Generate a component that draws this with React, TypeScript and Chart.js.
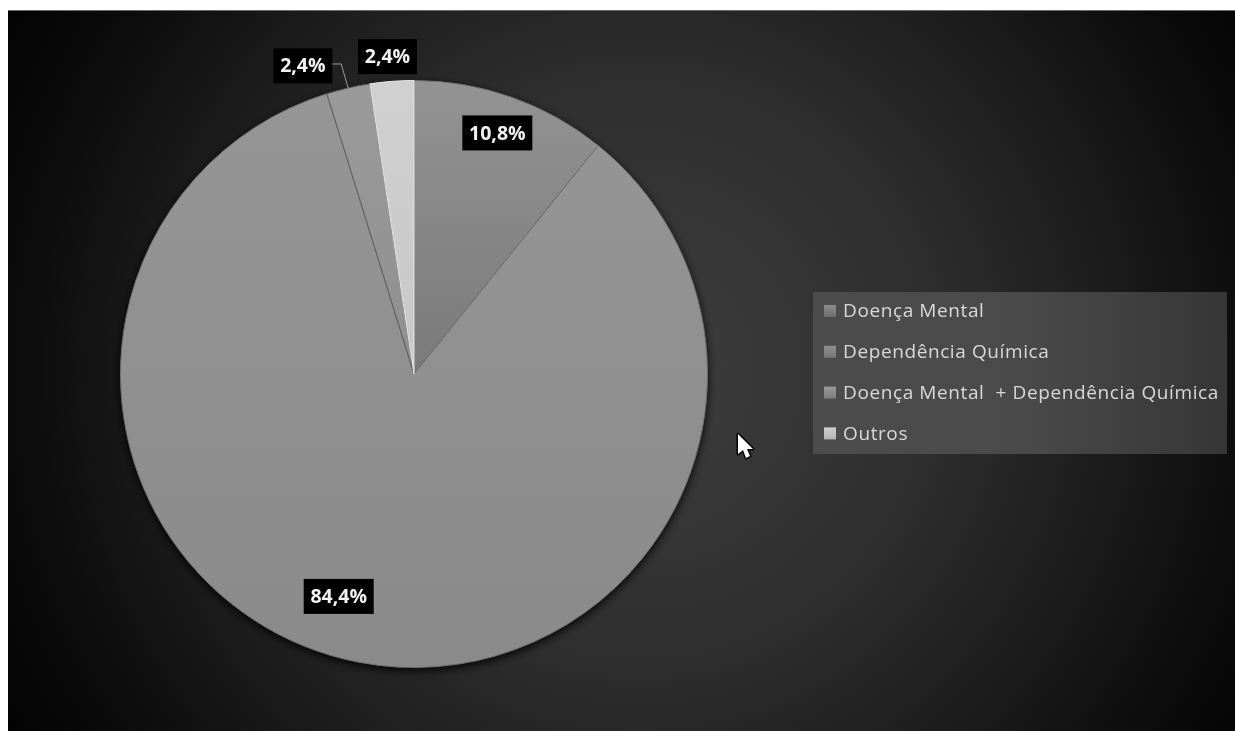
import { useEffect, useRef } from "react";
import { Chart, registerables, type Plugin } from "chart.js";

Chart.register(...registerables);

const categories = [
  "Doença Mental",
  "Dependência Química",
  "Doença Mental  + Dependência Química",
  "Outros",
];
const shares = [10.8, 84.4, 2.4, 2.4];
const shareLabels = ["10,8%", "84,4%", "2,4%", "2,4%"];
const sliceTones = [
  ["#939393", "#7a7a7a"],
  ["#969696", "#8a8a8a"],
  ["#9a9a9a", "#858585"],
  ["#d0d0d0", "#c0c0c0"],
];
const swatchTones = [
  ["#8c8c8c", "#6e6e6e"],
  ["#909090", "#767676"],
  ["#9a9a9a", "#7c7c7c"],
  ["#cfcfcf", "#b5b5b5"],
];

const WIDTH = 1235;
const HEIGHT = 731;
const LABEL_FONT = 'bold 19.5px "Open Sans", sans-serif';
const LEGEND_FONT = '19px "Open Sans", sans-serif';

// Page strip, dark radial backdrop and the pie's soft drop shadow.
const backdrop: Plugin<"pie"> = {
  id: "backdrop",
  beforeDraw(chart) {
    const { ctx } = chart;
    ctx.save();
    ctx.fillStyle = "#ffffff";
    ctx.fillRect(0, 0, WIDTH, HEIGHT);
    const glow = ctx.createRadialGradient(640, 370, 40, 640, 370, 760);
    glow.addColorStop(0, "#3c3c3c");
    glow.addColorStop(0.35, "#2e2e2e");
    glow.addColorStop(0.6, "#1c1c1c");
    glow.addColorStop(0.8, "#0c0c0c");
    glow.addColorStop(1, "#000000");
    ctx.fillStyle = glow;
    ctx.fillRect(8, 10, WIDTH - 8, HEIGHT - 10);
    ctx.fillStyle = "#6a6a6a";
    ctx.fillRect(8, 10, WIDTH - 8, 1);
    const arc = chart.getDatasetMeta(0).data[0] as any;
    if (arc) {
      ctx.shadowColor = "rgba(0,0,0,0.95)";
      ctx.shadowBlur = 10;
      ctx.shadowOffsetY = 3;
      ctx.fillStyle = "#000";
      ctx.beginPath();
      ctx.arc(arc.x, arc.y, arc.outerRadius, 0, Math.PI * 2);
      ctx.fill();
    }
    ctx.restore();
  },
};

// Value boxes, the leader of the small slice, the legend panel and the pointer.
const annotations: Plugin<"pie"> = {
  id: "annotations",
  afterDraw(chart) {
    const { ctx } = chart;
    const arcs = chart.getDatasetMeta(0).data as any[];
    // Polar placement per slice: radius multiplier and angle shift in radians.
    const placement = [
      [0.869, -0.0065],
      [0.8, 0.138],
      [1.116, -0.12],
      [1.085, -0.008],
    ];
    ctx.save();

    const small = arcs[2];
    const mid = (small.startAngle + small.endAngle) / 2;
    const edgeX = small.x + Math.cos(mid) * small.outerRadius;
    const edgeY = small.y + Math.sin(mid) * small.outerRadius;
    ctx.strokeStyle = "#9a9a9a";
    ctx.lineWidth = 1;
    ctx.beginPath();
    ctx.moveTo(edgeX, edgeY);
    ctx.lineTo(edgeX - 7, edgeY - 24);
    ctx.lineTo(edgeX - 16, edgeY - 24);
    ctx.stroke();

    ctx.font = LABEL_FONT;
    ctx.textAlign = "center";
    ctx.textBaseline = "middle";
    arcs.forEach((el, i) => {
      const angle = (el.startAngle + el.endAngle) / 2 + placement[i][1];
      const r = el.outerRadius * placement[i][0];
      const x = el.x + Math.cos(angle) * r;
      const y = el.y + Math.sin(angle) * r;
      const w = i < 2 ? 70 : 59;
      const h = 35;
      ctx.fillStyle = "#000000";
      ctx.fillRect(x - w / 2, y - h / 2, w, h);
      ctx.fillStyle = "#f2f2f2";
      ctx.fillText(shareLabels[i], x, y + 1);
    });

    const panelX = 813;
    const panelY = 292;
    const panelW = 414;
    const panelH = 162;
    const panel = ctx.createLinearGradient(panelX, 0, panelX + panelW, 0);
    panel.addColorStop(0, "#4c4c4c");
    panel.addColorStop(0.5, "#4a4a4a");
    panel.addColorStop(1, "#363636");
    ctx.fillStyle = panel;
    ctx.fillRect(panelX, panelY, panelW, panelH);

    ctx.font = LEGEND_FONT;
    (ctx as any).letterSpacing = "0.6px";
    ctx.textAlign = "left";
    categories.forEach((name, i) => {
      const rowY = panelY + 19 + i * 40.8;
      const swatch = ctx.createLinearGradient(0, rowY - 6, 0, rowY + 6);
      swatch.addColorStop(0, swatchTones[i][0]);
      swatch.addColorStop(1, swatchTones[i][1]);
      ctx.fillStyle = swatch;
      ctx.fillRect(824, rowY - 6, 12, 12);
      ctx.fillStyle = "#d9d9d9";
      ctx.fillText(name, 843, rowY + 1);
    });
    (ctx as any).letterSpacing = "0px";

    // Mouse pointer
    ctx.translate(738, 434);
    ctx.beginPath();
    ctx.moveTo(0, 0);
    ctx.lineTo(0, 20);
    ctx.lineTo(5, 16);
    ctx.lineTo(8, 24);
    ctx.lineTo(12, 22);
    ctx.lineTo(9, 15);
    ctx.lineTo(15, 15);
    ctx.closePath();
    ctx.fillStyle = "#ffffff";
    ctx.strokeStyle = "#000000";
    ctx.lineWidth = 3;
    ctx.lineJoin = "round";
    ctx.stroke();
    ctx.fill();
    ctx.restore();
  },
};

export default function App() {
  const canvasRef = useRef<HTMLCanvasElement>(null);

  useEffect(() => {
    document.body.style.margin = "0";
    const canvas = canvasRef.current!;
    const ctx = canvas.getContext("2d")!;
    const fills = sliceTones.map(([top, bottom], i) => {
      const g = ctx.createLinearGradient(0, 80, 0, i === 0 ? 374 : 668);
      g.addColorStop(0, top);
      g.addColorStop(1, bottom);
      return g;
    });
    const chart = new Chart(canvas, {
      type: "pie",
      data: {
        labels: categories,
        datasets: [
          {
            data: shares,
            backgroundColor: fills,
            borderColor: ["#6f6f6f", "#6f6f6f", "#5e5e5e", "#e6e6e6"],
            borderWidth: 1,
          },
        ],
      },
      options: {
        responsive: false,
        animation: false,
        layout: { padding: { left: 120, right: 527, top: 80, bottom: 63 } },
        plugins: {
          legend: { display: false },
          tooltip: { enabled: false },
        },
      },
      plugins: [backdrop, annotations],
    });
    return () => chart.destroy();
  }, []);

  return (
    <canvas
      ref={canvasRef}
      width={WIDTH}
      height={HEIGHT}
      style={{ display: "block", width: WIDTH, height: HEIGHT }}
    />
  );
}
